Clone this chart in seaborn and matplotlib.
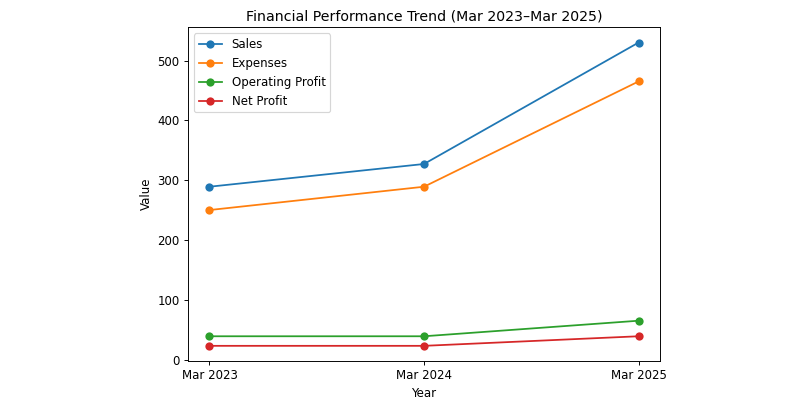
import pandas as pd
import matplotlib
matplotlib.use("Agg")
import matplotlib.pyplot as plt
import seaborn as sns

# Data
years = ["Mar 2023", "Mar 2024", "Mar 2025"]
sales = [289, 327, 530]
expenses = [250, 289, 465]
operating_profit = [39, 39, 65]
net_profit = [23, 23, 39]

series = {
    "Sales": sales,
    "Expenses": expenses,
    "Operating Profit": operating_profit,
    "Net Profit": net_profit,
}

rows = []
for name, values in series.items():
    for year, v in zip(years, values):
        rows.append({"Year": year, "Value": v, "Metric": name})
df = pd.DataFrame(rows)

dpi = 85
fig = plt.figure(figsize=(800 / dpi, 400 / dpi), dpi=dpi)
ax = fig.add_axes([0.235, 0.0975, 0.59, 0.834])

palette = ["#1f77b4", "#ff7f0e", "#2ca02c", "#d62728"]
for (name, color) in zip(series.keys(), palette):
    sub = df[df["Metric"] == name]
    sns.lineplot(data=sub, x="Year", y="Value", marker="o", markersize=7,
                 markeredgewidth=0, color=color, label=name, ax=ax, sort=False)

ax.set_title("Financial Performance Trend (Mar 2023\u2013Mar 2025)")
ax.set_xlabel("Year")
ax.set_ylabel("Value")
ax.legend(loc="upper left")

fig.savefig("out.png", dpi=dpi)
